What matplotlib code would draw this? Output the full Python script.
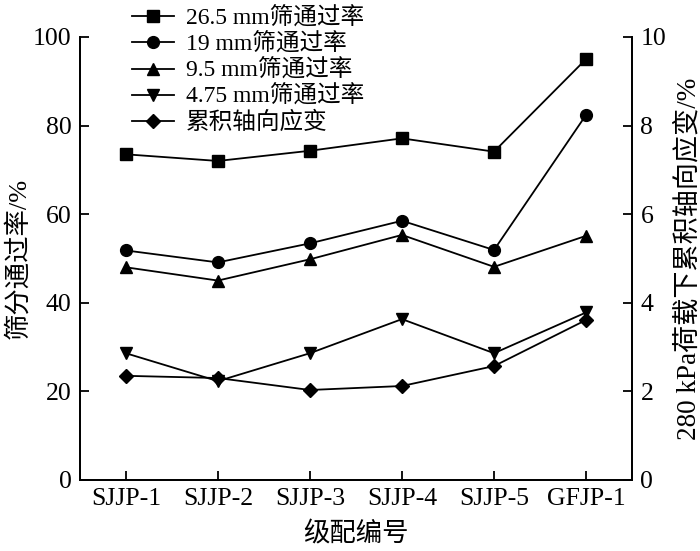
import numpy as np
import matplotlib.pyplot as plt

# data
groups = ['SJJP-1', 'SJJP-2', 'SJJP-3', 'SJJP-4', 'SJJP-5', 'GFJP-1']
pass_265 = [73.5, 72.0, 74.3, 77.1, 74.1, 95.0]
pass_19 = [51.8, 49.1, 53.4, 58.5, 51.9, 82.4]
pass_95 = [48.0, 45.0, 49.8, 55.3, 48.1, 55.1]
pass_475 = [28.6, 22.3, 28.6, 36.3, 28.6, 37.8]
strain = [2.35, 2.30, 2.03, 2.12, 2.57, 3.61]

fonts = ['Liberation Serif', 'Noto Sans CJK SC']
plt.rcParams['font.family'] = fonts
plt.rcParams['font.size'] = 18.5

fig = plt.figure(figsize=(7, 5.51), dpi=100)
ax = fig.add_axes([0.114, 0.129, 0.789, 0.804])
ax2 = ax.twinx()

x = np.arange(len(groups))
kw = dict(color='black', linewidth=1.3)
l1, = ax.plot(x, pass_265, marker='s', markersize=8, label='26.5 mm筛通过率', **kw)
l2, = ax.plot(x, pass_19, marker='o', markersize=8.5, label='19 mm筛通过率', **kw)
l3, = ax.plot(x, pass_95, marker='^', markersize=9, label='9.5 mm筛通过率', **kw)
l4, = ax.plot(x, pass_475, marker='v', markersize=9, label='4.75 mm筛通过率', **kw)
l5, = ax2.plot(x, strain, marker='D', markersize=7, label='累积轴向应变', **kw)

ax.set_xlim(-0.5, 5.5)
ax.set_ylim(0, 100)
ax2.set_ylim(0, 10)
ax.set_xticks(x)
ax.set_xticklabels(groups)
ax.set_yticks(np.arange(0, 101, 20))
ax2.set_yticks(np.arange(0, 11, 2))

for a in (ax, ax2):
    a.spines['top'].set_visible(False)
    for s in a.spines.values():
        s.set_linewidth(1.3)
    a.tick_params(direction='in', length=6.5, width=1.3, pad=6)

ax.set_xlabel('级配编号', fontsize=19, labelpad=8)
ax.set_ylabel('筛分通过率/%', fontsize=19, labelpad=2)
ax2.set_ylabel('280 kPa荷载下累积轴向应变/%', fontsize=19.5, labelpad=7)

fig.legend(handles=[l1, l2, l3, l4, l5], loc='upper left',
           bbox_to_anchor=(0.175, 1.004), frameon=False, fontsize=17,
           handlelength=1.8, handletextpad=0.5, labelspacing=0.16,
           borderaxespad=0)

fig.savefig('out.png', dpi=100)
